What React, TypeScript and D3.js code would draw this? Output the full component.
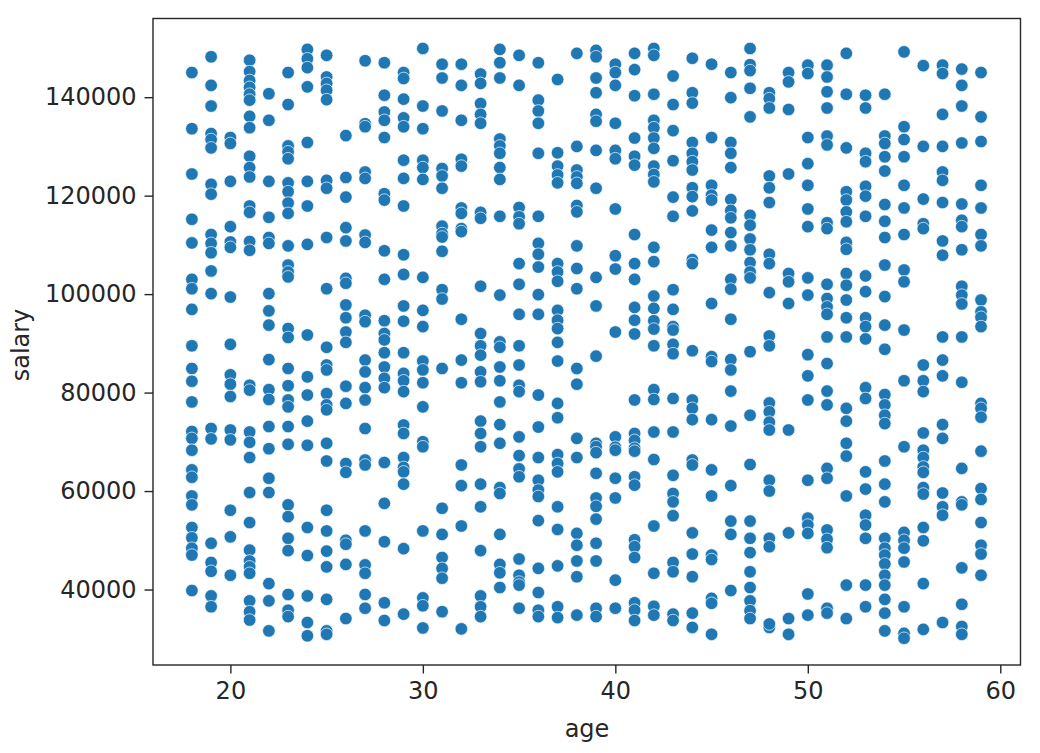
import React, { useEffect, useRef } from "react";
import { axisBottom, axisLeft, ScaleLinear, scaleLinear, select } from "d3";

// salaries in thousands, one list per age
const age18 = [145, 133.6, 124.4, 115.2, 110.4, 103, 101.1, 96.9, 89.5, 84.9, 82.3, 78.1, 72.1, 70.7, 68.3, 64.3, 62.8, 59, 57.2, 52.6, 50.5, 48.4, 47, 39.8];
const age19 = [148.2, 142.4, 138.2, 132.6, 131.4, 129.7, 122.3, 120.3, 112.1, 110.3, 108.4, 104.7, 100.1, 72.7, 70.6, 49.4, 45.5, 43.7, 38.7, 36.5];
const age20 = [131.8, 130.6, 122.9, 113.7, 110.6, 109.5, 99.4, 89.8, 83.6, 81.7, 79.2, 72.4, 70.4, 56.1, 50.7, 42.9];
const age21 = [147.5, 145.2, 143.4, 142, 140.6, 139.4, 136.1, 133.8, 128, 125.7, 123.8, 117.9, 116.6, 110.7, 108.9, 81.5, 80.5, 72, 69.9, 66.8, 59.7, 53.6, 48, 45.8, 44.6, 43.3, 37.7, 35.5, 33.8];
const age22 = [140.7, 135.3, 122.9, 115.6, 111.5, 110.3, 100.1, 96.6, 93.7, 86.7, 80.6, 78.6, 73.1, 68.6, 62.6, 59.7, 41.2, 37.7, 31.6];
const age23 = [145, 138.5, 130.1, 128.9, 127.5, 122.6, 120.8, 118.5, 116.4, 109.8, 105.9, 104.5, 103.5, 93, 91.2, 84.9, 81.4, 78.5, 77.1, 73.1, 69.5, 57.2, 54.8, 50.4, 47.9, 39, 35.8, 34.5];
const age24 = [149.7, 147.8, 146, 142.1, 130.8, 122.9, 117.9, 110.1, 91.7, 83.2, 79.5, 74.2, 69.3, 52.6, 46.9, 38.7, 33.3, 30.6];
const age25 = [148.5, 144.1, 142.8, 141.4, 139.5, 123.1, 121.5, 111.5, 101.1, 89.2, 85.6, 84.6, 79.8, 77.5, 76.5, 69.7, 66.1, 56.1, 51.9, 47.8, 44.6, 38, 31.6, 30.9];
const age26 = [132.2, 123.7, 119.7, 113.5, 110.8, 103.2, 102.2, 97.8, 95.2, 92.3, 90.2, 81.3, 77.8, 65.6, 63.8, 50, 49.2, 45.1, 34.1];
const age27 = [147.4, 134.6, 134, 124.8, 123.5, 112, 110.5, 95.7, 94.4, 86.6, 84.2, 81, 78.5, 72.7, 66.3, 65.3, 51.9, 45, 43.3, 39, 36.2];
const age28 = [147, 140.4, 137, 135.3, 131.8, 120.4, 119.1, 108.8, 103, 94.6, 92, 90.7, 88.1, 85.2, 82.9, 81, 65.8, 57.5, 49.7, 37.3, 33.7];
const age29 = [145, 143.8, 139.6, 135.8, 134, 127.2, 123.5, 117.9, 108, 104, 97.6, 94.5, 88.1, 83.9, 82.4, 80.2, 73.4, 71.7, 66.8, 64.8, 63.9, 61.4, 48.3, 35];
const age30 = [149.9, 138.2, 133.6, 127.2, 125.7, 123.3, 103.4, 96.7, 93.4, 86.4, 84.6, 82, 77.1, 70, 69, 51.9, 38.3, 36.7, 32.2];
const age31 = [146.7, 143.9, 137.2, 125.5, 124, 121.5, 113.8, 112.3, 111.6, 108.7, 100.9, 99, 84.9, 56.5, 51.2, 46.5, 44.3, 42.3, 35.5];
const age32 = [146.7, 142.4, 135.3, 127.4, 126, 117.5, 116.4, 113.3, 112.7, 94.9, 86.6, 82, 65.3, 61.1, 52.9, 32];
const age33 = [144.7, 142.8, 138.7, 136.5, 134.7, 116.6, 115.4, 101.6, 92, 89.5, 87.6, 84.2, 82.2, 74.2, 71.7, 69, 61.4, 56.8, 47.9, 38.7, 36.5, 34.5];
const age34 = [149.7, 147, 143.9, 131.5, 130.1, 128.6, 125.7, 123.3, 115.8, 99.8, 90.3, 89.2, 85.2, 82.4, 78.1, 73.5, 69.7, 60.7, 59.5, 51.2, 45.1, 43.4, 40.4];
const age35 = [148.5, 142.4, 117.6, 115.7, 114.3, 106.2, 102, 95.9, 89.5, 85.6, 81.5, 80.2, 71, 67.2, 64.5, 62.9, 46.2, 42.9, 41.5, 40.9, 36.2];
const age36 = [147, 139.4, 137.2, 134.7, 128.6, 115.8, 110.3, 108.1, 105.5, 99.9, 95.9, 79.5, 73, 66.8, 62.2, 60.2, 58.9, 54, 44.3, 39.4, 35.8, 34.5];
const age37 = [143.6, 128.7, 126, 124.2, 122.6, 106.2, 104.5, 102.6, 96.7, 94.7, 93, 90.2, 86.4, 77.8, 74.9, 67.4, 65.6, 63.9, 56.8, 52.2, 44.8, 36.5, 34.3];
const age38 = [148.9, 130, 125.2, 123.8, 122.5, 118, 116.7, 109.8, 105.2, 101.1, 84.9, 81.7, 70.7, 66.8, 51.4, 49, 45.8, 42.6, 34.8];
const age39 = [149.5, 148.2, 143.9, 140.9, 136.5, 135.1, 129.2, 121.5, 103.4, 97.6, 87.4, 69.7, 69, 67.8, 63.6, 58.6, 56.9, 54.3, 49.4, 45.8, 36.2, 34.5];
const age40 = [146.7, 145, 142.4, 134.7, 129.2, 127.5, 117.3, 107.8, 105.1, 92.3, 71, 68.9, 68.3, 62.6, 58.6, 41.9, 36.2];
const age41 = [148.9, 145.6, 140.3, 131.7, 128, 126.2, 112.1, 106.2, 103, 97.3, 94.7, 91.9, 78.5, 71.7, 70.3, 68.7, 68.1, 62.9, 61.2, 50.1, 48.7, 46.5, 37.3, 35.8, 33.7];
const age42 = [149.9, 148.5, 140.6, 135.3, 133.8, 131.7, 129.6, 126, 124.3, 122.8, 109.5, 106.6, 99.6, 97.1, 94.6, 92.9, 89.5, 80.6, 78.6, 72, 66.4, 52.9, 43.3, 36.6, 34.8];
const age43 = [144.3, 138.5, 133.2, 127.1, 119.7, 115.8, 100.9, 96.9, 93.4, 92.7, 89.8, 87.9, 78.8, 72, 63.2, 59.5, 57.8, 55, 45.5, 43.6, 35, 33.7];
const age44 = [147.9, 140.9, 138.8, 130.8, 128.6, 126.9, 125.2, 121.6, 119.8, 116.9, 107, 106.2, 88.5, 78.5, 76.8, 74.5, 66.3, 65.3, 51.5, 47.2, 42.6, 35.2, 32.3];
const age45 = [146.7, 131.8, 122.1, 120.1, 119.1, 113, 109.5, 98.1, 87.3, 86.3, 74.5, 64.3, 59, 47, 46.1, 38.2, 37.2, 30.9];
const age46 = [145, 139.9, 130.8, 128.6, 125.7, 119.2, 117, 115.5, 112.5, 109.8, 103, 101, 94.9, 86.7, 84.6, 80.3, 73.2, 61.1, 53.9, 51.2, 39.8];
const age47 = [149.9, 146.6, 145.4, 141.8, 136, 116, 114, 111.2, 109, 106.4, 104.5, 103.3, 88.3, 75.4, 65.4, 53.9, 50.4, 47.5, 43.6, 40.4, 37.7, 35.7, 34.1];
const age48 = [140.9, 139.7, 137.8, 124, 121.6, 118.6, 108.1, 106.2, 100.3, 91.5, 89.5, 77.9, 76.1, 74, 72.4, 62.2, 60, 50.4, 48.7, 32.3, 33];
const age49 = [145, 143.1, 137.5, 124.4, 104.2, 102.5, 98.1, 72.4, 51.5, 34.1, 30.9];
const age50 = [146.5, 144.8, 131.8, 126.5, 122.1, 117.3, 113.7, 103.3, 99.8, 87.7, 83.4, 78.5, 62.2, 54.5, 53.1, 51.4, 39.1, 34.8];
const age51 = [146.5, 144.1, 141.1, 137.8, 132.1, 130.3, 114.5, 113.3, 102, 99.1, 97.4, 95.9, 91.3, 85.9, 80.3, 77.5, 64.6, 62.6, 52.1, 50.2, 48.5, 36.2, 35.2];
const age52 = [148.9, 140.6, 129.7, 120.8, 119.1, 116.7, 114.7, 110.5, 109.1, 104.2, 101.8, 98.8, 95.2, 91.3, 76.8, 74.2, 69.7, 67.1, 59, 40.9, 34.1];
const age53 = [140.4, 137.8, 128.6, 126.9, 121.9, 119.9, 115.8, 103.7, 100.5, 95.2, 93.4, 90.9, 81, 78.8, 63.9, 60.4, 55.1, 53.1, 50.4, 40.9, 36.5];
const age54 = [140.6, 132.1, 130.6, 127.9, 125, 118.2, 114.8, 111.5, 105.9, 99.5, 93.7, 88.8, 79.6, 77.5, 75.4, 73.7, 66.1, 61.4, 57.8, 50.4, 48.4, 47, 45.2, 42.9, 40.9, 38, 35.2, 31.6];
const age55 = [149.2, 134, 131.4, 127.9, 122.1, 117.5, 112.1, 104.9, 102.5, 92.7, 82.4, 69, 51.6, 50, 48.4, 45.6, 36.5, 31.1, 30.1];
const age56 = [146.4, 130, 119.3, 114.3, 113.3, 85.6, 82.4, 80.2, 71.8, 68.3, 66.8, 64.9, 63.8, 60.7, 59.4, 52.6, 49.9, 41.2, 31.9];
const age57 = [146.5, 144.8, 136.5, 130, 124.8, 123.1, 118.6, 110.8, 107.9, 91.3, 86.6, 83.4, 73.5, 70.7, 59.6, 56.8, 55.1, 33.3];
const age58 = [145.7, 142.4, 138.2, 130.7, 118.3, 115, 113.7, 109, 101.6, 99.8, 98, 91.3, 82.1, 64.6, 57.8, 57.2, 44.4, 37, 32.5, 30.9];
const age59 = [145, 136, 131, 122.1, 117.5, 112.1, 109.8, 98.8, 96.4, 95.3, 93.4, 77.8, 76.8, 75, 68.1, 60.5, 58.3, 53.6, 49, 47.2, 42.9];

const salariesByAge = [
  age18, age19, age20, age21, age22, age23, age24, age25, age26, age27, age28, age29, age30, age31,
  age32, age33, age34, age35, age36, age37, age38, age39, age40, age41, age42, age43, age44, age45,
  age46, age47, age48, age49, age50, age51, age52, age53, age54, age55, age56, age57, age58, age59,
];
const firstAge = 18;

const ageTicks = [20, 30, 40, 50, 60];
const salaryTicks = [40000, 60000, 80000, 100000, 120000, 140000];

const font = "'DejaVu Sans', sans-serif";
const ink = "#262626";
const fontSize = 24;
const margin = { top: 18.5, right: 19.5, bottom: 88, left: 153 };
const width = 1040;
const height = 753;

interface AxisProps {
  scale: ScaleLinear<number, number, never>;
  ticks: number[];
  transform?: string;
}

function AxisBottom({ scale, ticks, transform }: AxisProps) {
  const ref = useRef<SVGGElement>(null);

  useEffect(() => {
    if (ref.current) {
      const g = select(ref.current);
      g.call(axisBottom(scale).tickValues(ticks).tickFormat((d) => String(d)).tickSize(8.5).tickPadding(8));
      g.select(".domain").remove();
      g.selectAll("line").attr("stroke", ink).attr("stroke-width", 1.4);
      g.selectAll("text").attr("fill", ink).style("font-family", font).style("font-size", `${fontSize}px`);
    }
  }, [scale, ticks]);

  return <g ref={ref} transform={transform} />;
}

function AxisLeft({ scale, ticks, transform }: AxisProps) {
  const ref = useRef<SVGGElement>(null);

  useEffect(() => {
    if (ref.current) {
      const g = select(ref.current);
      g.call(axisLeft(scale).tickValues(ticks).tickFormat((d) => String(d)).tickSize(8.5).tickPadding(8));
      g.select(".domain").remove();
      g.selectAll("line").attr("stroke", ink).attr("stroke-width", 1.4);
      g.selectAll("text").attr("fill", ink).style("font-family", font).style("font-size", `${fontSize}px`);
    }
  }, [scale, ticks]);

  return <g ref={ref} transform={transform} />;
}

export default function App() {
  const scaleX = scaleLinear().domain([15.98, 61.05]).range([margin.left, width - margin.right]);
  const scaleY = scaleLinear()
    .domain([24670, 155980])
    .range([height - margin.bottom, margin.top]);

  const points = salariesByAge.flatMap((salaries, i) =>
    salaries.map((salary) => ({ age: firstAge + i, salary: salary * 1000 }))
  );

  return (
    <svg
      width={width}
      height={height}
      style={{ position: "absolute", left: 0, top: 0, background: "#fff" }}
    >
      <g>
        {points.map((p, i) => (
          <circle
            key={`point-${i}`}
            cx={scaleX(p.age)}
            cy={scaleY(p.salary)}
            r={6.3}
            fill="#1f77b4"
            stroke="#fff"
            strokeOpacity={0.75}
            strokeWidth={0.9}
          />
        ))}
      </g>
      <rect
        x={margin.left}
        y={margin.top}
        width={width - margin.left - margin.right}
        height={height - margin.top - margin.bottom}
        fill="none"
        stroke={ink}
        strokeWidth={1.4}
      />
      <AxisBottom scale={scaleX} ticks={ageTicks} transform={`translate(0, ${height - margin.bottom})`} />
      <AxisLeft scale={scaleY} ticks={salaryTicks} transform={`translate(${margin.left}, 0)`} />
      <text x={587} y={737} textAnchor="middle" fontFamily={font} fontSize={fontSize} fill={ink}>
        age
      </text>
      <text
        transform="translate(29, 345) rotate(-90)"
        textAnchor="middle"
        fontFamily={font}
        fontSize={fontSize}
        fill={ink}
      >
        salary
      </text>
    </svg>
  );
}
